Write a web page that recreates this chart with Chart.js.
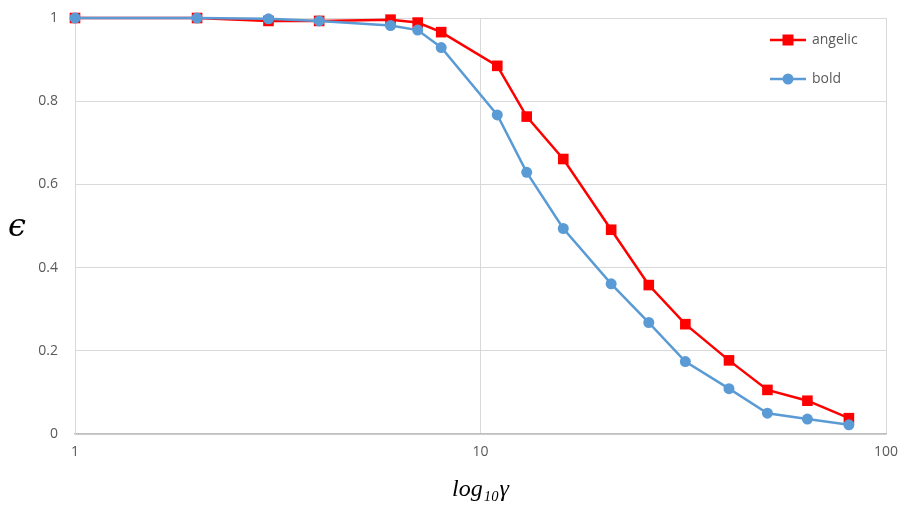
<!DOCTYPE html>
<html>
<head>
<meta charset="utf-8">
<script src="https://cdn.jsdelivr.net/npm/chart.js@4.4.1/dist/chart.umd.min.js"></script>
<style>
  html, body { margin: 0; padding: 0; background: #fff; }
  #wrap { width: 905px; height: 516px; position: relative; }
</style>
</head>
<body>
<div id="wrap"><canvas id="chart"></canvas></div>
<script>
// gamma values (x axis, log scale)
const gammaValues = [1, 2, 3, 4, 6, 7, 8, 11, 13, 16, 21, 26, 32, 41, 51, 64, 81];
// epsilon per method
const angelicValues = [1.0, 1.0, 0.993, 0.993, 0.996, 0.989, 0.966, 0.885, 0.763, 0.661, 0.491, 0.358, 0.264, 0.177, 0.106, 0.080, 0.038];
const boldValues = [1.0, 1.0, 0.998, 0.993, 0.982, 0.971, 0.929, 0.767, 0.629, 0.494, 0.361, 0.268, 0.174, 0.109, 0.050, 0.036, 0.022];
const seriesNames = ["angelic", "bold"];
const xTicks = [1, 10, 100];
const yTicks = [0, 0.2, 0.4, 0.6, 0.8, 1];

const RED = "#ff0000";
const BLUE = "#5b9bd5";
const GRID = "#d9d9d9";
const LABEL = "#595959";

function toPoints(values) {
  return gammaValues.map((g, i) => ({ x: g, y: values[i] }));
}

// legend drawn inside the plot, top right
const insideLegend = {
  id: "insideLegend",
  afterDraw(chart) {
    const ctx = chart.ctx;
    const area = chart.chartArea;
    chart.data.datasets.forEach((ds, i) => {
      const x = area.right - 116;
      const y = area.top + 22 + i * 39;
      ctx.save();
      ctx.strokeStyle = ds.borderColor;
      ctx.lineWidth = 2.5;
      ctx.beginPath();
      ctx.moveTo(x, y);
      ctx.lineTo(x + 36, y);
      ctx.stroke();
      ctx.fillStyle = ds.backgroundColor;
      if (ds.pointStyle === "rect") {
        ctx.fillRect(x + 18 - 5.5, y - 5.5, 11, 11);
      } else {
        ctx.beginPath();
        ctx.arc(x + 18, y, 5.5, 0, Math.PI * 2);
        ctx.fill();
      }
      ctx.fillStyle = LABEL;
      ctx.font = "14px 'Open Sans'";
      ctx.textBaseline = "middle";
      ctx.textAlign = "left";
      ctx.fillText(ds.label, x + 42, y);
      ctx.restore();
    });

    // upright y title
    ctx.save();
    ctx.fillStyle = "#000";
    ctx.font = "italic 32px 'DejaVu Serif'";
    ctx.textAlign = "center";
    ctx.textBaseline = "middle";
    ctx.fillText("\u03f5", 17, (area.top + area.bottom) / 2 + 2);
    ctx.restore();
  }
};

const ctx = document.getElementById("chart").getContext("2d");
new Chart(ctx, {
  type: "line",
  data: {
    datasets: [
      {
        label: seriesNames[0],
        data: toPoints(angelicValues),
        borderColor: RED,
        backgroundColor: RED,
        borderWidth: 2.5,
        pointStyle: "rect",
        pointRadius: 7.5,
        pointBorderWidth: 0,
        tension: 0,
        clip: false,
        order: 1
      },
      {
        label: seriesNames[1],
        data: toPoints(boldValues),
        borderColor: BLUE,
        backgroundColor: BLUE,
        borderWidth: 2.5,
        pointStyle: "circle",
        pointRadius: 5.5,
        pointBorderWidth: 0,
        tension: 0,
        clip: false,
        order: 0
      }
    ]
  },
  options: {
    responsive: true,
    maintainAspectRatio: false,
    animation: false,
    layout: { padding: { top: 18, right: 19, left: 0, bottom: 0 } },
    plugins: {
      legend: { display: false },
      tooltip: { enabled: false }
    },
    scales: {
      x: {
        type: "logarithmic",
        min: 1,
        max: 100,
        afterBuildTicks: (scale) => {
          scale.ticks = xTicks.map((v) => ({ value: v }));
        },
        afterFit: (scale) => {
          scale.height = 82;
          scale.paddingLeft = 0;
          scale.paddingRight = 0;
        },
        ticks: {
          color: LABEL,
          font: { family: "Open Sans", size: 14 },
          padding: 10,
          maxRotation: 0,
          callback: (v) => String(v)
        },
        grid: { color: GRID, lineWidth: 1, drawTicks: false },
        border: { color: "#bfbfbf", width: 1.5 },
        title: {
          display: true,
          text: "log\u2081\u2080\u03b3",
          color: "#000",
          font: { family: "Liberation Serif", size: 24, style: "italic" },
          padding: { top: 0, bottom: 12 }
        }
      },
      y: {
        min: 0,
        max: 1,
        afterBuildTicks: (scale) => {
          scale.ticks = yTicks.map((v) => ({ value: v }));
        },
        afterFit: (scale) => {
          scale.width = 75;
          scale.paddingTop = 0;
          scale.paddingBottom = 0;
        },
        ticks: {
          color: LABEL,
          font: { family: "Open Sans", size: 14 },
          padding: 17,
          callback: (v) => String(v)
        },
        grid: { color: GRID, lineWidth: 1, drawTicks: false },
        border: { color: GRID, width: 1 }
      }
    }
  },
  plugins: [insideLegend]
});
</script>
</body>
</html>
